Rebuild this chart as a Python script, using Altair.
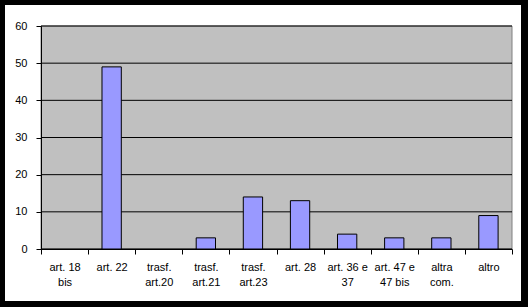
import altair as alt
import pandas as pd

categories = ["art. 18|bis", "art. 22", "trasf.|art.20", "trasf.|art.21", "trasf.|art.23",
              "art. 28", "art. 36 e|37", "art. 47 e|47 bis", "altra|com.", "altro"]
values = [0, 49, 0, 3, 14, 13, 4, 3, 3, 9]
y_ticks = [0, 10, 20, 30, 40, 50, 60]

W, H = 471, 223
FONT = "Liberation Sans"

bars_df = pd.DataFrame({"cat": categories, "val": values})
grid_df = pd.DataFrame({"v": y_ticks})
one = pd.DataFrame({"k": [0]})

yscale = alt.Scale(domain=[0, 60], nice=False)
yaxis = alt.Axis(title=None, values=y_ticks, grid=False,
                 labelFont=FONT, labelFontSize=11, labelColor="black",
                 labelPadding=9, tickSize=5, tickColor="black",
                 domainColor="black", zindex=1)

frame = alt.Chart(one).mark_rect(fill="white").encode(
    x=alt.value(-36), x2=alt.value(480), y=alt.value(-21), y2=alt.value(275)
)
plotbg = alt.Chart(one).mark_rect(fill="#C0C0C0", stroke="#808080", strokeWidth=1).encode(
    x=alt.value(0), x2=alt.value(W), y=alt.value(0), y2=alt.value(H)
)
grid = alt.Chart(grid_df).mark_rule(color="black", strokeWidth=1).encode(
    y=alt.Y("v:Q", scale=yscale, axis=yaxis),
    x=alt.value(0), x2=alt.value(W)
)
bars = alt.Chart(bars_df).mark_bar(
    fill="#9999FF", stroke="black", strokeWidth=1, width=alt.RelativeBandSize(0.41)
).encode(
    x=alt.X("cat:N", sort=categories,
            scale=alt.Scale(paddingInner=0, paddingOuter=0),
            axis=alt.Axis(title=None, labelAngle=0, tickBand="extent",
                          labelExpr="isValid(datum.value) ? split(datum.value, '|') : ''",
                          labelFont=FONT, labelFontSize=11, labelColor="black",
                          labelLineHeight=15, labelPadding=7, tickSize=5,
                          tickColor="black", domainColor="black", zindex=1)),
    y=alt.Y("val:Q", scale=yscale, axis=yaxis),
    strokeOpacity=alt.condition("datum.val > 0", alt.value(1), alt.value(0))
)

chart = alt.layer(frame, plotbg, grid, bars).properties(
    width=W, height=H,
    autosize=alt.AutoSizeParams(type="none"),
    padding={"left": 41, "top": 26, "right": 16, "bottom": 58},
    background="black"
).configure_view(stroke=None)

chart.save("out.html", embed_options={"renderer": "svg", "actions": False})
